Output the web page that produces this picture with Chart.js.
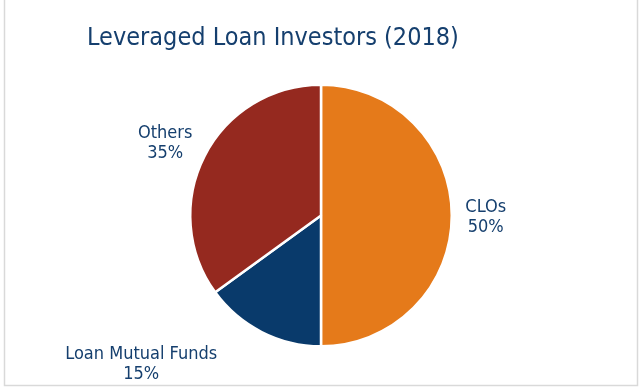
<!DOCTYPE html>
<html>
<head>
<meta charset="utf-8">
<script src="https://cdn.jsdelivr.net/npm/chart.js@4"></script>
<style>
  html, body { margin: 0; padding: 0; background: #ffffff; }
  #wrap { position: relative; width: 642px; height: 391px; }
</style>
</head>
<body>
<div id="wrap"><canvas id="c" width="642" height="391"></canvas></div>
<script>
// ---- data ----
const chartTitle = "Leveraged Loan Investors (2018)";
const categories = ["CLOs", "Loan Mutual Funds", "Others"];
const shares = [50, 15, 35];

// ---- styles ----
const sliceColors = ["#E57A1A", "#093A6B", "#95291F"];
const textColor = "#153F6E";
const labelFont = "18px 'DejaVu Sans Condensed', 'DejaVu Sans', sans-serif";
const titleFont = "25px 'DejaVu Sans Condensed', 'DejaVu Sans', sans-serif";
const labelGap = 34;
const labelNudges = [[0, 0], [-105, 0], [-9, 1]];

const decorPlugin = {
  id: 'decor',
  beforeDraw(chart) {
    const ctx = chart.ctx;
    ctx.save();
    ctx.fillStyle = '#ffffff';
    ctx.fillRect(0, 0, chart.width, chart.height);
    ctx.strokeStyle = '#d9d9d9';
    ctx.lineWidth = 1.5;
    ctx.strokeRect(4.5, -2, 633, 387.5);
    ctx.fillStyle = textColor;
    ctx.font = titleFont;
    ctx.textAlign = 'left';
    ctx.textBaseline = 'alphabetic';
    ctx.fillText(chartTitle, 87, 45);
    ctx.restore();
  },
  afterDatasetsDraw(chart) {
    const ctx = chart.ctx;
    const meta = chart.getDatasetMeta(0);
    const total = shares.reduce((a, b) => a + b, 0);
    ctx.save();
    ctx.fillStyle = textColor;
    ctx.font = labelFont;
    ctx.textAlign = 'center';
    ctx.textBaseline = 'alphabetic';
    meta.data.forEach((arc, i) => {
      const p = arc.getProps(['x', 'y', 'startAngle', 'endAngle', 'outerRadius'], true);
      const mid = (p.startAngle + p.endAngle) / 2;
      const r = p.outerRadius + labelGap;
      const cx = p.x + Math.cos(mid) * r + labelNudges[i][0];
      const cy = p.y + Math.sin(mid) * r + labelNudges[i][1];
      const pct = Math.round(shares[i] / total * 100) + '%';
      ctx.fillText(categories[i], cx, cy - 3.5);
      ctx.fillText(pct, cx, cy + 16.5);
    });
    ctx.restore();
  }
};

new Chart(document.getElementById('c'), {
  type: 'pie',
  data: {
    labels: categories,
    datasets: [{
      data: shares,
      backgroundColor: sliceColors,
      borderColor: '#ffffff',
      borderWidth: 2.5
    }]
  },
  options: {
    responsive: false,
    animation: false,
    layout: { padding: { top: 83, bottom: 43, left: 189, right: 189 } },
    plugins: {
      legend: { display: false },
      tooltip: { enabled: false },
      title: { display: false }
    }
  },
  plugins: [decorPlugin]
});
</script>
</body>
</html>
